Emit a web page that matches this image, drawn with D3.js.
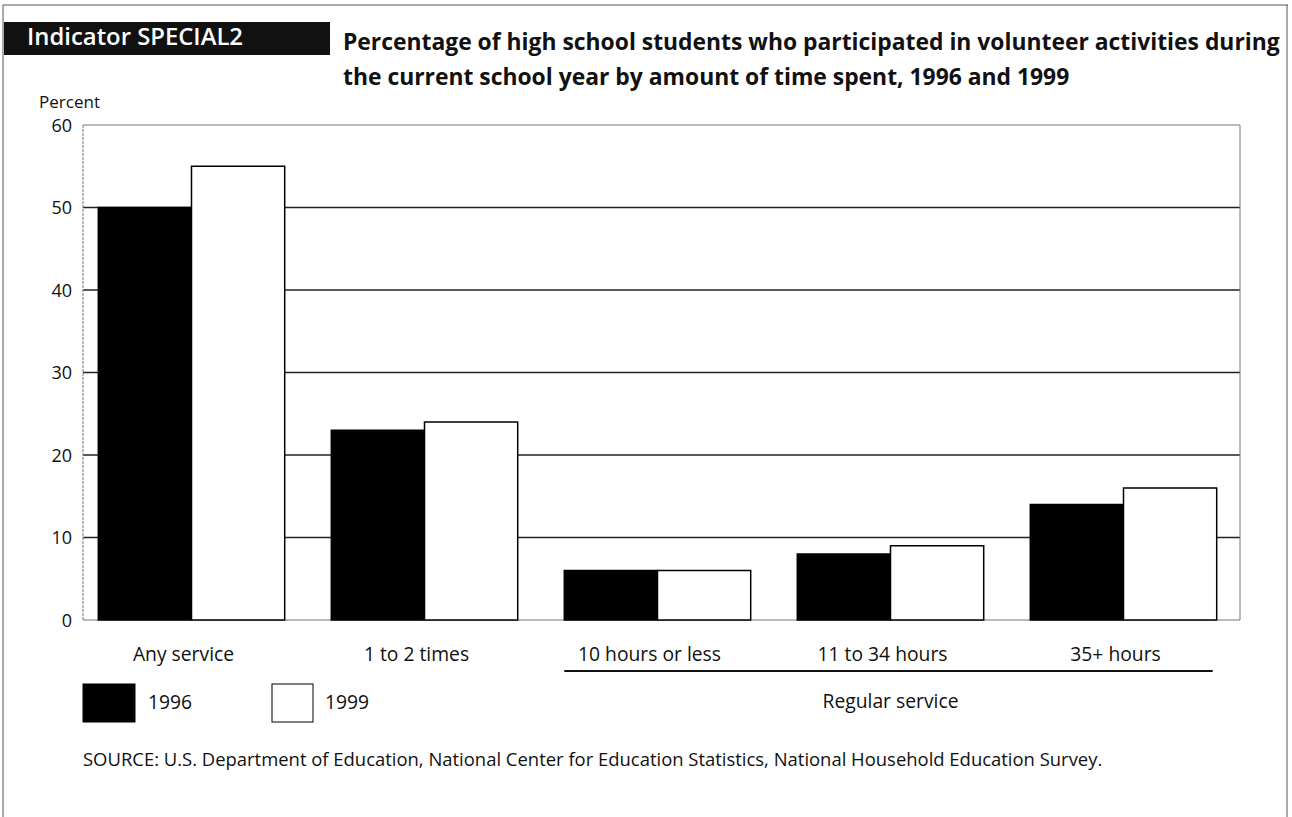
<!DOCTYPE html>
<html><head><meta charset="utf-8">
<script src="https://cdn.jsdelivr.net/npm/d3@7"></script>
<style>body{margin:0;background:#fff;}svg{display:block;font-family:"Open Sans","Noto Sans",sans-serif;}</style>
</head><body>
<svg id="c" width="1292" height="817"></svg>
<script>
const categories = ["Any service","1 to 2 times","10 hours or less","11 to 34 hours","35+ hours"];
const years = ["1996","1999"];
const values1996 = [50,23,6,8,14];
const values1999 = [55,24,6,9,16];
const yTicks = [0,10,20,30,40,50,60];
const titleLines = ["Percentage of high school students who participated in volunteer activities during","the current school year by amount of time spent, 1996 and 1999"];
const indicatorLabel = "Indicator SPECIAL2";
const groupLabel = "Regular service";
const sourceText = "SOURCE: U.S. Department of Education, National Center for Education Statistics, National Household Education Survey.";

const svg = d3.select("#c");
const L = 83, R = 1240, T = 125, B = 620;
const y = d3.scaleLinear().domain([0,60]).range([B,T]);
const x0 = d3.scaleBand().domain(categories).range([75,R]).paddingInner(0.2).paddingOuter(0.1);
const x1 = d3.scaleBand().domain(years).range([0,x0.bandwidth()]);
const colors = {"1996":"#000","1999":"#fff"};

// fit a text element's font size so that it spans a target width
function fit(sel, target){
  sel.each(function(){
    const fs = parseFloat(this.getAttribute("font-size"));
    const w = this.getComputedTextLength();
    if (w>0) this.setAttribute("font-size", (fs*target/w).toFixed(2));
  });
}

// page frame
svg.append("line").attr("x1",3).attr("x2",1288).attr("y1",5).attr("y2",5).attr("stroke","#555").attr("stroke-width",1);
svg.append("line").attr("x1",3).attr("x2",3).attr("y1",5).attr("y2",817).attr("stroke","#555").attr("stroke-width",1);
svg.append("line").attr("x1",1287).attr("x2",1287).attr("y1",5).attr("y2",817).attr("stroke","#555").attr("stroke-width",1);

// indicator box
svg.append("rect").attr("x",4).attr("y",22).attr("width",326).attr("height",33).attr("fill","#111");
svg.append("text").attr("x",27).attr("y",45).attr("fill","#fff").attr("font-size",18).attr("font-weight",600).text(indicatorLabel).call(fit,216);

// title
const tt = svg.append("g").selectAll("text").data(titleLines).join("text")
  .attr("x",343).attr("y",(d,i)=>50+i*35).attr("font-size",20).attr("font-weight",700).attr("fill","#111").text(d=>d);
fit(tt.filter((d,i)=>i===0),937);
tt.filter((d,i)=>i===1).attr("font-size",tt.filter((d,i)=>i===0).attr("font-size"));

svg.append("text").attr("x",39).attr("y",108).attr("font-size",15).attr("fill","#111").text("Percent").call(fit,61);

// gridlines
svg.append("g").selectAll("line").data(yTicks).join("line")
  .attr("x1",L).attr("x2",R).attr("y1",d=>y(d)).attr("y2",d=>y(d))
  .attr("stroke",d=>(d===0||d===60)?"#777":"#222").attr("stroke-width",d=>(d===0||d===60)?1:1.6);
// left axis & right border
svg.append("line").attr("x1",L).attr("x2",L).attr("y1",T).attr("y2",B).attr("stroke","#777").attr("stroke-width",1).attr("stroke-dasharray","3,1");
svg.append("line").attr("x1",R).attr("x2",R).attr("y1",T).attr("y2",B).attr("stroke","#777").attr("stroke-width",1);

// y axis labels
const yAxis = d3.axisLeft(y).tickValues(yTicks).tickSize(0).tickPadding(11);
const ga = svg.append("g").attr("transform",`translate(${L},0)`).call(yAxis);
ga.attr("font-size",null).attr("font-family",null);
ga.select(".domain").remove();
ga.selectAll("text").attr("font-size",18).attr("fill","#111").attr("dy","0.36em");

// bars
const data = categories.map((c,i)=>({c, vals:[{k:"1996",v:values1996[i]},{k:"1999",v:values1999[i]}]}));
const g = svg.append("g").selectAll("g").data(data).join("g").attr("transform",d=>`translate(${x0(d.c)},0)`);
g.selectAll("rect").data(d=>d.vals).join("rect")
  .attr("x",d=>x1(d.k)).attr("width",x1.bandwidth())
  .attr("y",d=>y(d.v)).attr("height",d=>y(0)-y(d.v))
  .attr("fill",d=>colors[d.k]).attr("stroke","#000").attr("stroke-width",1.5);

// category labels
const cl = svg.append("g").selectAll("text").data(categories).join("text")
  .attr("x",d=>x0(d)+x0.bandwidth()/2-8).attr("y",661).attr("text-anchor","middle")
  .attr("font-size",15.5).attr("fill","#111").text(d=>d);
fit(cl.filter((d,i)=>i===2),143);
cl.attr("font-size",cl.filter((d,i)=>i===2).attr("font-size"));

// regular service bracket
const rs = categories.slice(2);
const rx1 = x0(rs[0]), rx2 = x0(rs[rs.length-1])+x0.bandwidth();
svg.append("line").attr("x1",rx1).attr("x2",rx2-4).attr("y1",671).attr("y2",671).attr("stroke","#111").attr("stroke-width",2);
svg.append("text").attr("x",(rx1+rx2)/2).attr("y",708).attr("text-anchor","middle").attr("font-size",cl.attr("font-size")).attr("fill","#111").text(groupLabel);

// legend
const lg = svg.append("g").selectAll("g").data(years).join("g").attr("transform",(d,i)=>`translate(${[83,272][i]},684)`);
lg.append("rect").attr("width",(d,i)=>i?41:52).attr("height",38).attr("fill",d=>colors[d]).attr("stroke","#000").attr("stroke-width",1);
lg.append("text").attr("x",(d,i)=>i?53:65).attr("y",25).attr("font-size",cl.attr("font-size")).attr("fill","#111").text(d=>d);

svg.append("text").attr("x",83).attr("y",766).attr("font-size",15.5).attr("fill","#111").text(sourceText).call(fit,1020);
</script>
</body></html>
